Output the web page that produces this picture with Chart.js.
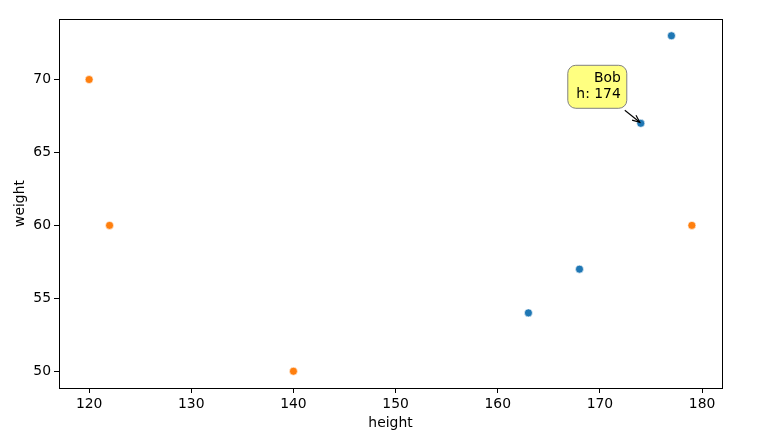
<!DOCTYPE html>
<html lang="en">
<head>
<meta charset="UTF-8">
<title>height vs weight</title>
<style>
  html, body { margin: 0; padding: 0; background: #fff; }
  #wrap { width: 784px; height: 437px; }
</style>
</head>
<body>
<div id="wrap"><canvas id="chart" width="784" height="437"></canvas></div>
<script src="https://cdn.jsdelivr.net/npm/chart.js@4.4.1/dist/chart.umd.min.js"></script>
<script>
  // data
  const blueHeights = [177, 174, 168, 163];
  const blueWeights = [73, 67, 57, 54];
  const orangeHeights = [120, 122, 140, 179];
  const orangeWeights = [70, 60, 50, 60];
  const xTicks = [120, 130, 140, 150, 160, 170, 180];
  const yTicks = [50, 55, 60, 65, 70];
  const noteLines = ['Bob', 'h: 174'];
  const notePoint = [174, 67];

  const FONT = '"DejaVu Sans", sans-serif';
  const FS = 13.9;

  function toPoints(xs, ys) {
    return xs.map((x, i) => ({ x: x, y: ys[i] }));
  }

  // frame around the plot area + the annotation bubble
  const extras = {
    id: 'extras',
    afterDatasetsDraw(chart) {
      const ctx = chart.ctx;
      const a = chart.chartArea;
      ctx.save();
      ctx.strokeStyle = '#000';
      ctx.lineWidth = 1;
      ctx.strokeRect(Math.round(a.left) + 0.5, Math.round(a.top) + 0.5,
                     Math.round(a.right - a.left), Math.round(a.bottom - a.top));

      const px = chart.scales.x.getPixelForValue(notePoint[0]);
      const py = chart.scales.y.getPixelForValue(notePoint[1]);
      const bw = 59, bh = 43;
      const bx = px - 14 - bw, by = py - 15 - bh;

      // arrow
      const sx = bx + bw - 2, sy = by + bh + 2;
      const ex = px - 1, ey = py - 1;
      ctx.strokeStyle = '#000';
      ctx.lineWidth = 1.2;
      ctx.beginPath();
      ctx.moveTo(sx, sy);
      ctx.lineTo(ex, ey);
      ctx.stroke();
      const ang = Math.atan2(ey - sy, ex - sx);
      ctx.beginPath();
      ctx.moveTo(ex - 8 * Math.cos(ang - 0.4), ey - 8 * Math.sin(ang - 0.4));
      ctx.lineTo(ex, ey);
      ctx.lineTo(ex - 8 * Math.cos(ang + 0.4), ey - 8 * Math.sin(ang + 0.4));
      ctx.stroke();

      // box
      ctx.beginPath();
      ctx.roundRect(bx, by, bw, bh, 8);
      ctx.fillStyle = '#ffff80';
      ctx.fill();
      ctx.strokeStyle = '#808080';
      ctx.lineWidth = 1;
      ctx.stroke();

      ctx.fillStyle = '#000';
      ctx.font = FS + 'px ' + FONT;
      ctx.textAlign = 'right';
      ctx.textBaseline = 'middle';
      noteLines.forEach((t, i) => {
        ctx.fillText(t, bx + bw - 6, by + 13 + i * 16);
      });
      ctx.restore();
    }
  };

  new Chart(document.getElementById('chart'), {
    type: 'scatter',
    data: {
      datasets: [
        {
          label: 'blue',
          data: toPoints(blueHeights, blueWeights),
          backgroundColor: '#1f77b4',
          borderColor: '#ffffff',
          borderWidth: 0.6,
          pointRadius: 4
        },
        {
          label: 'orange',
          data: toPoints(orangeHeights, orangeWeights),
          backgroundColor: '#ff7f0e',
          borderColor: '#ffffff',
          borderWidth: 0.6,
          pointRadius: 4
        }
      ]
    },
    options: {
      responsive: false,
      animation: false,
      layout: { padding: { left: 0, right: 62, top: 19, bottom: 0 } },
      plugins: {
        legend: { display: false },
        tooltip: { enabled: false }
      },
      scales: {
        x: {
          type: 'linear',
          min: 117.05,
          max: 181.95,
          afterBuildTicks: s => { s.ticks = xTicks.map(v => ({ value: v })); },
          afterFit: s => { s.height = 49; s.paddingLeft = 0; s.paddingRight = 0; },
          grid: { drawOnChartArea: false, tickLength: 5, tickColor: '#000' },
          border: { display: false },
          ticks: { color: '#000', font: { family: FONT, size: FS }, padding: 3, maxRotation: 0 },
          title: { display: true, text: 'height', color: '#000', font: { family: FONT, size: FS }, padding: { top: 2, bottom: 5 } }
        },
        y: {
          type: 'linear',
          min: 48.85,
          max: 74.15,
          afterBuildTicks: s => { s.ticks = yTicks.map(v => ({ value: v })); },
          afterFit: s => { s.width = 59; s.paddingTop = 0; s.paddingBottom = 0; },
          grid: { drawOnChartArea: false, tickLength: 5, tickColor: '#000' },
          border: { display: false },
          ticks: { color: '#000', font: { family: FONT, size: FS }, padding: 3 },
          title: { display: true, text: 'weight', color: '#000', font: { family: FONT, size: FS }, padding: { top: 12, bottom: 2 } }
        }
      }
    },
    plugins: [extras]
  });
</script>
</body>
</html>
